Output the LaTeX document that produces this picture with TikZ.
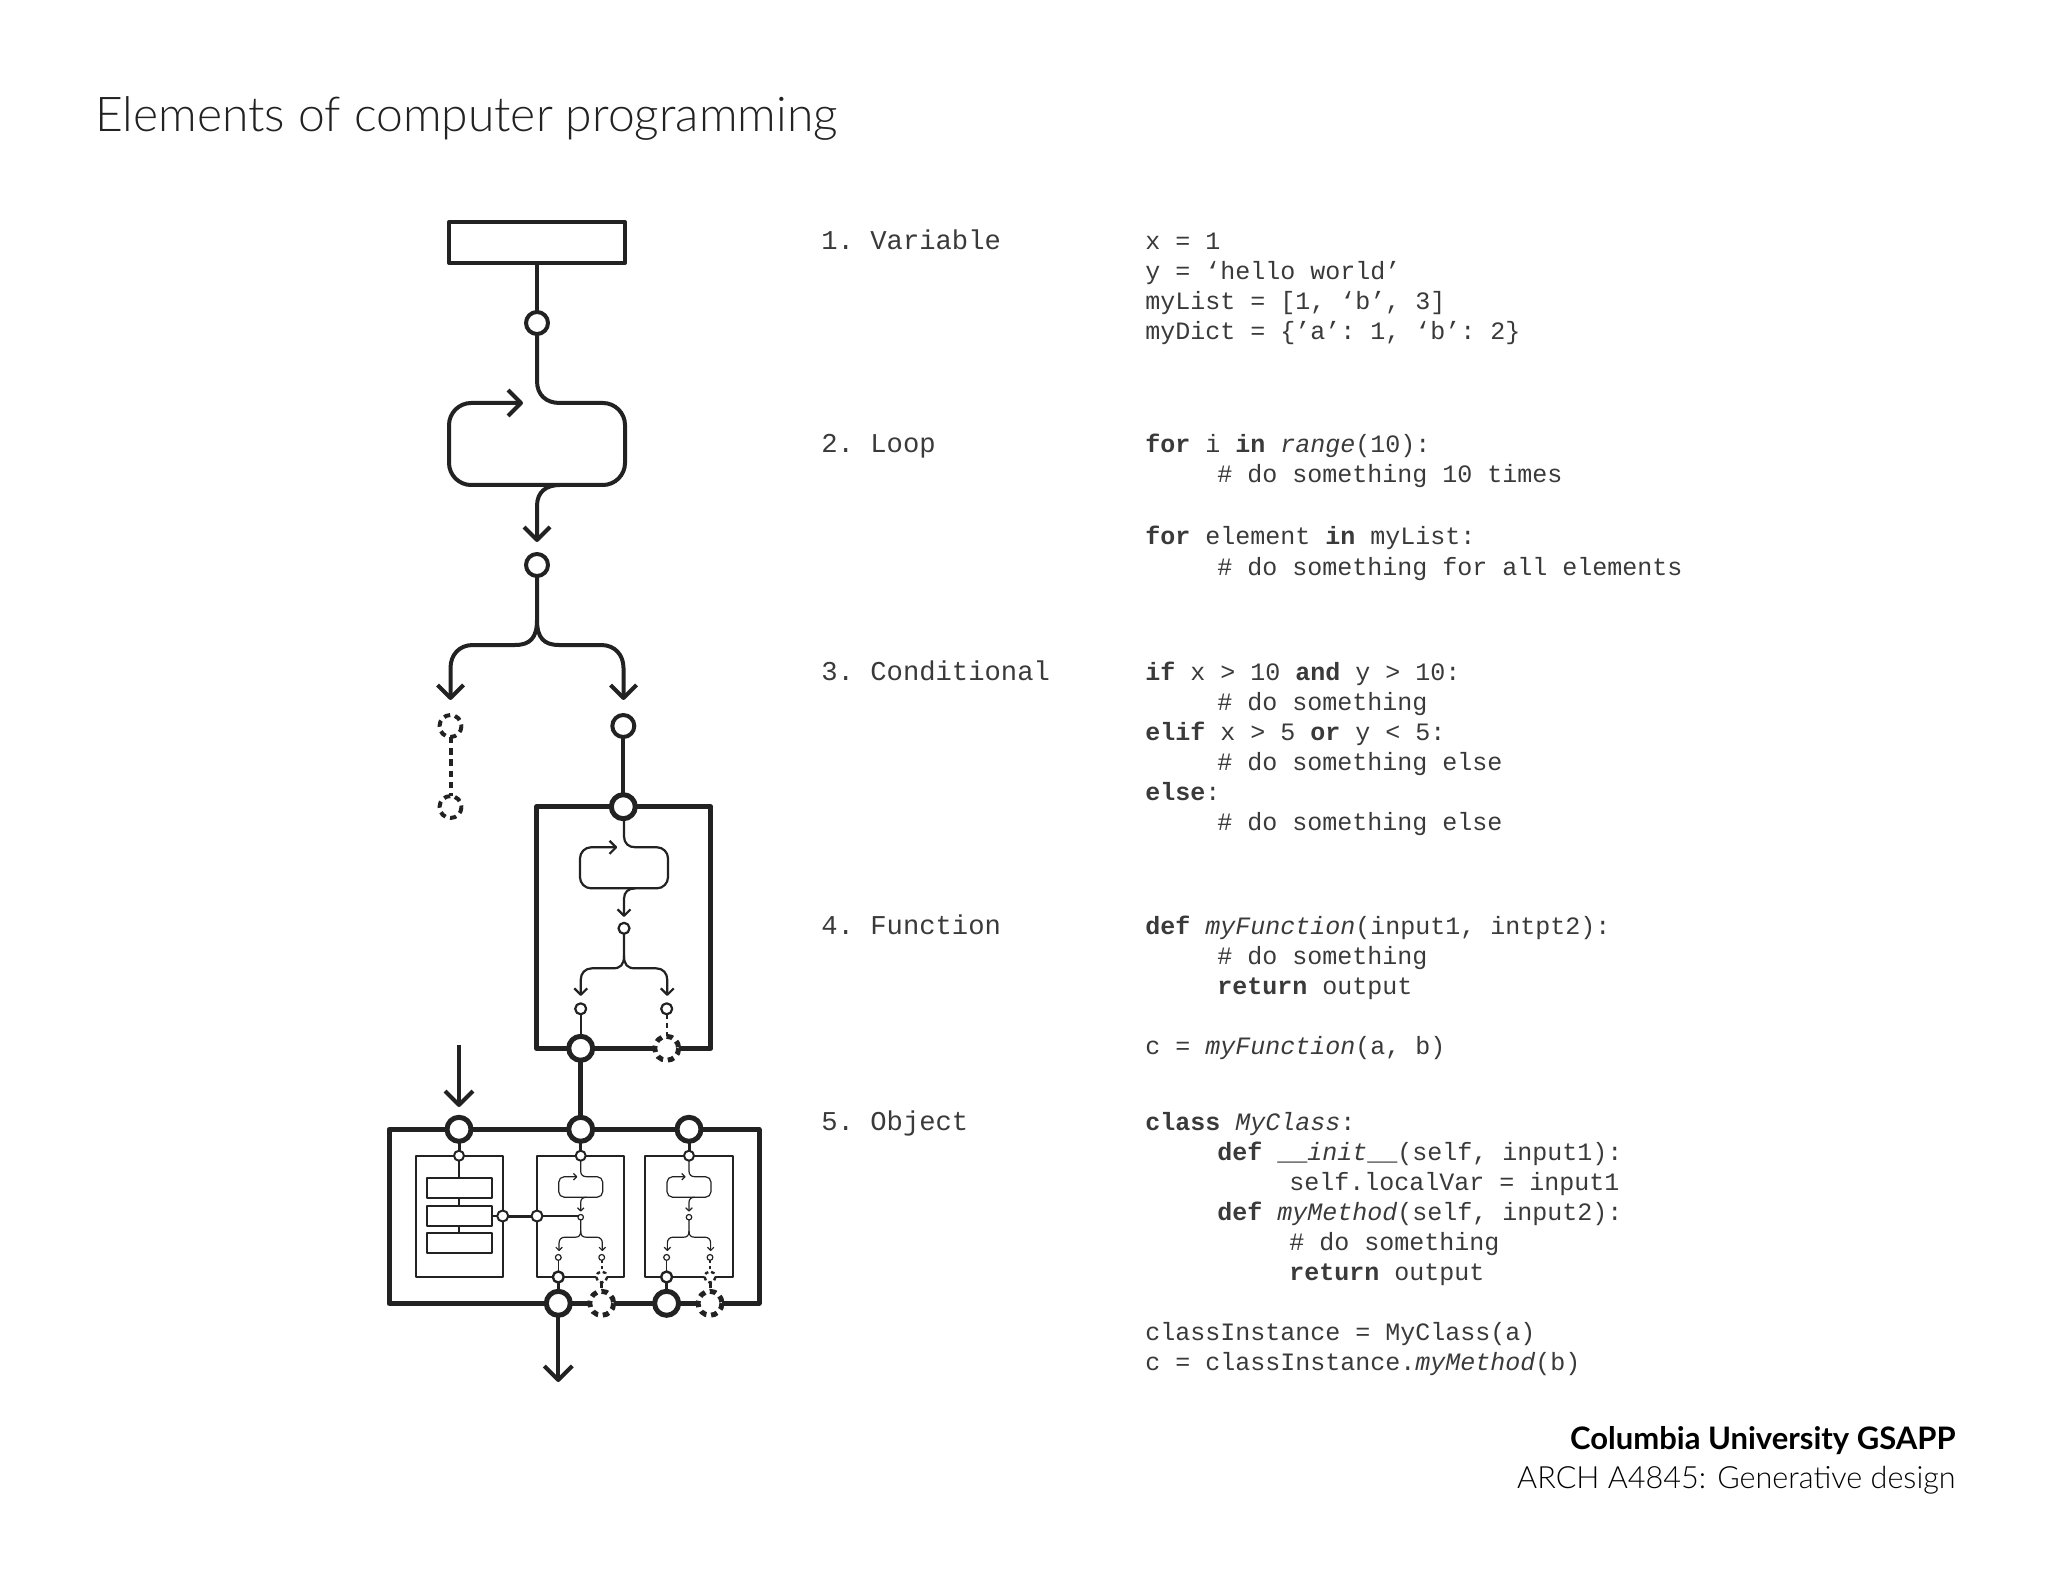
\documentclass[tikz,border=0pt]{standalone}
\usepackage{fontspec}
\setmainfont{Lato}
\setmonofont{Liberation Mono}
\newfontfamily\lightfont{Lato Light}
\definecolor{ink}{HTML}{222222}
\definecolor{codegray}{HTML}{3A3A3A}
\newcommand\lcgraph[1]{%
  \draw[line width=#1] (537,334) -- (537,381) .. controls (537,395) and (546,403) .. (560,403) -- (603,403)
    .. controls (615,403) and (625,413) .. (625,425) -- (625,463)
    .. controls (625,475) and (615,485) .. (603,485) -- (471,485)
    .. controls (459,485) and (449,475) .. (449,463) -- (449,425)
    .. controls (449,413) and (459,403) .. (471,403) -- (521,403);
  \draw[line width=#1] (508,390) -- (521,403) -- (508,416);
  \draw[line width=#1] (560,485) .. controls (546,485) and (537,492) .. (537,506) -- (537,540);
  \draw[line width=#1] (524,527) -- (537,540) -- (550,527);
  \draw[line width=#1] (537,576) -- (537,620) .. controls (537,638) and (530,645) .. (515,645) -- (473,645)
    .. controls (459,645) and (450.5,655) .. (450.5,668) -- (450.5,698);
  \draw[line width=#1] (537,620) .. controls (537,638) and (544,645) .. (559,645) -- (601,645)
    .. controls (615,645) and (623.5,655) .. (623.5,668) -- (623.5,698);
  \draw[line width=#1] (437.5,685) -- (450.5,698) -- (463.5,685);
  \draw[line width=#1] (610.5,685) -- (623.5,698) -- (636.5,685);
  \draw[line width=#1,fill=white] (537,565) circle[radius=11];
}
\tikzset{
  code/.style={anchor=base west,inner sep=0pt,font=\ttfamily\fontsize{12.5}{15}\selectfont,text=codegray},
  lab/.style={anchor=base west,inner sep=0pt,font=\ttfamily\fontsize{13.6}{15}\selectfont,text=codegray},
  circ/.style={draw,fill=white},
  dcirc/.style={draw,fill=white,dash pattern=on 3.2pt off 2.4pt},
}
\newcommand\ind{\hspace*{36pt}}
\begin{document}
\begin{tikzpicture}[x=0.5pt,y=-0.5pt,line join=round,color=ink]
\useasboundingbox (0,0) rectangle (2048,1582);
% title
\node[anchor=base west,inner sep=0pt,font=\lightfont\fontsize{24}{28}\selectfont] (title) at (95,132) {Elements of computer programming};
% variable
\draw[line width=2pt] (449,222) rectangle (625,263);
\draw[line width=2pt] (537,263) -- (537,334);
\draw[line width=2pt,circ] (537,323) circle[radius=11];
\lcgraph{2pt}
% left branch dashed
\draw[line width=2pt,dash pattern=on 3.2pt off 2.4pt] (450.5,737) -- (450.5,796);
\draw[line width=2pt,dcirc] (450.5,726) circle[radius=11];
\draw[line width=2pt,dcirc] (450.5,807) circle[radius=11];
% right branch
\draw[line width=2pt] (623.3,737) -- (623.3,795);
\draw[line width=2pt,circ] (623.3,726) circle[radius=11];
% function box
\draw[line width=2.5pt] (536.7,806.7) rectangle (710.7,1048.3);
\begin{scope}[shift={(355.5,645.8)},scale=0.5]
\lcgraph{1.1pt}
\end{scope}
\draw[line width=1.1pt] (580.7,1014) -- (580.7,1048);
\draw[line width=1.1pt,dash pattern=on 2.5pt off 2pt] (666.7,1014) -- (666.7,1040);
\draw[line width=1.1pt,circ] (580.7,1008.8) circle[radius=5.5];
\draw[line width=1.1pt,circ] (666.7,1008.8) circle[radius=5.5];
\draw[line width=2.5pt,circ] (623.3,806.7) circle[radius=12];
\draw[line width=2.5pt] (580.7,1048) -- (580.7,1129.3);
\draw[line width=2.5pt,circ] (580.7,1048.3) circle[radius=12];
\draw[line width=2.5pt,dcirc] (666.7,1048.3) circle[radius=12];
% object box
\draw[line width=2.5pt] (389,1129.3) rectangle (759,1303.3);
\draw[line width=2pt] (459,1045) -- (459,1105);
\draw[line width=2pt] (445,1091) -- (459,1105) -- (473,1091);
\draw[line width=1pt] (415.7,1155.7) rectangle (502.7,1277);
\draw[line width=1pt] (536.7,1155.7) rectangle (624,1277);
\draw[line width=1pt] (645,1155.7) rectangle (732.7,1277);
\foreach \xx in {459,580.7,689} {\draw[line width=1.5pt] (\xx,1129.3) -- (\xx,1155.7);}
% box1 contents
\draw[line width=0.6pt] (459,1160) -- (459,1233);
\foreach \yy in {1178.3,1206,1233.3} {\draw[line width=1pt,fill=white] (426.7,\yy) rectangle (492,\yy+20);}
\draw[line width=0.6pt] (492,1216) -- (502.7,1216);
\draw[line width=1.5pt] (502.7,1216) -- (537,1216);
\draw[line width=0.6pt] (537,1216) -- (580.7,1216);
\draw[line width=1pt,circ] (502.7,1216) circle[radius=5.5];
\draw[line width=1pt,circ] (537,1216) circle[radius=5.5];
% mini-mini graphs
\foreach \dx in {0,108.3} {
  \begin{scope}[shift={(446.45+\dx,1075.95)},scale=0.25]
  \lcgraph{0.6pt}
  \end{scope}
  \draw[line width=0.8pt] (558.3+\dx,1260) -- (558.3+\dx,1277);
  \draw[line width=0.8pt,dash pattern=on 1.6pt off 1.4pt] (601.7+\dx,1260) -- (601.7+\dx,1272);
  \draw[line width=0.6pt,circ] (558.3+\dx,1257.4) circle[radius=2.9];
  \draw[line width=0.6pt,circ] (601.7+\dx,1257.4) circle[radius=2.9];
  \draw[line width=1.5pt] (558.3+\dx,1277) -- (558.3+\dx,1303.3);
  \draw[line width=1.5pt,dash pattern=on 2.5pt off 2pt] (601.7+\dx,1283) -- (601.7+\dx,1292);
  \draw[line width=1.2pt,circ] (558.3+\dx,1277) circle[radius=5.5];
  \draw[line width=1.2pt,dcirc,dash pattern=on 1.8pt off 1.5pt] (601.7+\dx,1277) circle[radius=5.5];
  \draw[line width=2.5pt,circ] (558.3+\dx,1303.3) circle[radius=12];
  \draw[line width=2.5pt,dcirc] (601.7+\dx,1303.3) circle[radius=12];
}
\foreach \xx in {459,580.7,689} {
  \draw[line width=2.5pt,circ] (\xx,1129.3) circle[radius=12];
  \draw[line width=1pt,circ] (\xx,1155.7) circle[radius=5];
}
\draw[line width=2pt] (558.3,1315) -- (558.3,1380);
\draw[line width=2pt] (544.3,1366) -- (558.3,1380) -- (572.3,1366);
% labels
\node[lab] (l1) at (821,250) {1. Variable};
\node[lab] (l2) at (821,453) {2. Loop};
\node[lab] (l3) at (821,680) {3. Conditional};
\node[lab] (l4) at (821,934) {4. Function};
\node[lab] (l5) at (821,1130) {5. Object};
% code
\node[code] (v1) at (1145,250) {x = 1};
\node[code] (v2) at (1145,280) {y = ‘hello world’};
\node[code] (v3) at (1145,310) {myList = [1, ‘b’, 3]};
\node[code] (v4) at (1145,340) {myDict = \{’a’: 1, ‘b’: 2\}};
\node[code] (p1) at (1145,453) {\textbf{for} i \textbf{in} \textit{range}(10):};
\node[code] (p2) at (1145,483) {\ind\# do something 10 times};
\node[code] (p3) at (1145,545) {\textbf{for} element \textbf{in} myList:};
\node[code] (p4) at (1145,575) {\ind\# do something for all elements};
\node[code] (c1) at (1145,680) {\textbf{if} x > 10 \textbf{and} y > 10:};
\node[code] (c2) at (1145,710) {\ind\# do something};
\node[code] (c3) at (1145,740) {\textbf{elif} x > 5 \textbf{or} y < 5:};
\node[code] (c4) at (1145,770) {\ind\# do something else};
\node[code] (c5) at (1145,800) {\textbf{else}:};
\node[code] (c6) at (1145,830) {\ind\# do something else};
\node[code] (f1) at (1145,934) {\textbf{def} \textit{myFunction}(input1, intpt2):};
\node[code] (f2) at (1145,964) {\ind\# do something};
\node[code] (f3) at (1145,994) {\ind\textbf{return} output};
\node[code] (f4) at (1145,1054) {c = \textit{myFunction}(a, b)};
\node[code] (o1) at (1145,1130) {\textbf{class} \textit{MyClass}:};
\node[code] (o2) at (1145,1160) {\ind\textbf{def} \_\_\textit{init}\_\_(self, input1):};
\node[code] (o3) at (1145,1190) {\ind\ind self.localVar = input1};
\node[code] (o4) at (1145,1220) {\ind\textbf{def} \textit{myMethod}(self, input2):};
\node[code] (o5) at (1145,1250) {\ind\ind\# do something};
\node[code] (o6) at (1145,1280) {\ind\ind\textbf{return} output};
\node[code] (o7) at (1145,1340) {classInstance = MyClass(a)};
\node[code] (o8) at (1145,1370) {c = classInstance.\textit{myMethod}(b)};
% footer
\node[anchor=base east,inner sep=0pt,font=\bfseries\fontsize{15.5}{18}\selectfont,text=black] (f1a) at (1956,1449) {Columbia University GSAPP};
\node[anchor=base east,inner sep=0pt,font=\lightfont\fontsize{15.3}{18}\selectfont,text=black] (f2a) at (1956,1488) {ARCH A4845: Generative design};
\end{tikzpicture}
\end{document}
